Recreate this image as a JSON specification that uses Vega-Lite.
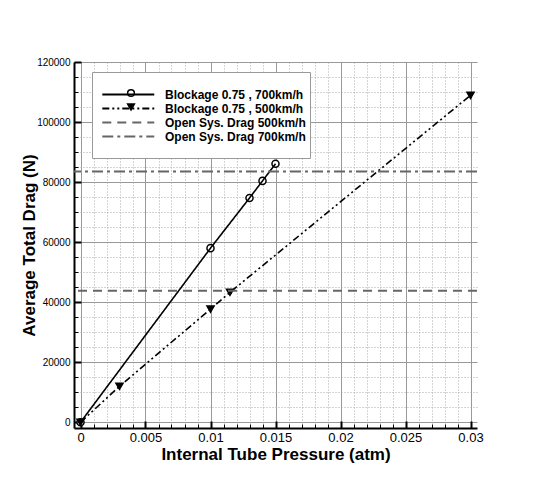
{
  "$schema": "https://vega.github.io/schema/vega-lite/v6.json",
  "autosize": {"type": "none"},
  "width": 403,
  "height": 366,
  "padding": {"left": 74, "top": 62, "right": 58, "bottom": 50},
  "background": "white",
  "config": {
    "view": {"stroke": null},
    "font": "Liberation Sans",
    "axis": {"labelFont": "Liberation Sans", "titleFont": "Liberation Sans", "labelColor": "black", "titleColor": "black", "tickColor": "black", "domainColor": "black"}
  },
  "datasets": {
    "curves": [
      {"series": "Blockage 0.75 , 700km/h", "p": 0, "drag": 0},
      {"series": "Blockage 0.75 , 700km/h", "p": 0.01, "drag": 58000},
      {"series": "Blockage 0.75 , 700km/h", "p": 0.013, "drag": 74700},
      {"series": "Blockage 0.75 , 700km/h", "p": 0.014, "drag": 80400},
      {"series": "Blockage 0.75 , 700km/h", "p": 0.015, "drag": 86100},
      {"series": "Blockage 0.75 , 500km/h", "p": 0, "drag": 0},
      {"series": "Blockage 0.75 , 500km/h", "p": 0.003, "drag": 12000},
      {"series": "Blockage 0.75 , 500km/h", "p": 0.01, "drag": 37700},
      {"series": "Blockage 0.75 , 500km/h", "p": 0.0115, "drag": 43300},
      {"series": "Blockage 0.75 , 500km/h", "p": 0.03, "drag": 108900}
    ],
    "markers": [
      {"mk": "m1", "p": 0, "drag": 0},
      {"mk": "m1", "p": 0.01, "drag": 58000},
      {"mk": "m1", "p": 0.013, "drag": 74700},
      {"mk": "m1", "p": 0.014, "drag": 80400},
      {"mk": "m1", "p": 0.015, "drag": 86100},
      {"mk": "m2", "p": 0, "drag": 0},
      {"mk": "m2", "p": 0.003, "drag": 12000},
      {"mk": "m2", "p": 0.01, "drag": 37700},
      {"mk": "m2", "p": 0.0115, "drag": 43300},
      {"mk": "m2", "p": 0.03, "drag": 108900}
    ],
    "levels": [
      {"series": "Open Sys. Drag 500km/h", "drag": 43800},
      {"series": "Open Sys. Drag 700km/h", "drag": 83500}
    ]
  },
  "resolve": {"axis": {"x": "independent", "y": "independent"}},
  "layer": [
    {
      "data": {"name": "markers"},
      "mark": {"type": "point", "strokeWidth": 1.5, "opacity": 1, "filled": false},
      "encoding": {
        "x": {
          "field": "p", "type": "quantitative",
          "scale": {"domain": [-0.0005, 0.0305], "nice": false, "zero": false},
          "axis": {"orient": "bottom", "values": [0.001, 0.002, 0.003, 0.004, 0.006, 0.007, 0.008, 0.009, 0.011, 0.012, 0.013, 0.014, 0.016, 0.017, 0.018, 0.019, 0.021, 0.022, 0.023, 0.024, 0.026, 0.027, 0.028, 0.029], "title": null, "labels": false, "domain": false, "grid": true, "gridDash": [1, 2], "gridColor": "#a8a8a8", "ticks": true, "tickSize": -4, "tickWidth": 1}
        },
        "y": {"field": "drag", "type": "quantitative",
          "scale": {"domain": [-1900, 120000], "nice": false, "zero": false},
          "axis": {"orient": "left", "values": [0, 20000, 40000, 60000, 80000, 100000, 120000], "title": null, "labels": false, "domain": false, "grid": false, "ticks": true, "tickSize": -7, "tickWidth": 2}},
        "color": {"field": "mk", "type": "nominal", "scale": {"domain": ["m1", "m2", "m3", "m4"], "range": ["black", "black", "transparent", "transparent"]},
          "legend": {"title": null, "orient": "none", "legendX": 18, "legendY": 10, "padding": 15, "fillColor": "white", "strokeColor": "#999999", "labelOpacity": 0, "labelExpr": "''", "labelFontSize": 12, "labelFontWeight": "bold", "labelFont": "Liberation Sans", "rowPadding": 1, "symbolSize": 45, "symbolStrokeWidth": 1.5, "symbolOffset": 18, "labelOffset": 158, "labelLimit": 300}},
        "fill": {"field": "mk", "type": "nominal", "scale": {"domain": ["m1", "m2", "m3", "m4"], "range": ["white", "black", "transparent", "transparent"]},
          "legend": {"title": null, "orient": "none", "legendX": 18, "legendY": 10, "padding": 15, "fillColor": "white", "strokeColor": "#999999", "labelOpacity": 0, "labelExpr": "''", "labelFontSize": 12, "labelFontWeight": "bold", "labelFont": "Liberation Sans", "rowPadding": 1, "symbolSize": 45, "symbolStrokeWidth": 1.5, "symbolOffset": 18, "labelOffset": 158, "labelLimit": 300}},
        "shape": {"field": "mk", "type": "nominal", "scale": {"domain": ["m1", "m2", "m3", "m4"], "range": ["circle", "triangle-down", "circle", "circle"]},
          "legend": {"title": null, "orient": "none", "legendX": 18, "legendY": 10, "padding": 15, "fillColor": "white", "strokeColor": "#999999", "labelOpacity": 0, "labelExpr": "''", "labelFontSize": 12, "labelFontWeight": "bold", "labelFont": "Liberation Sans", "rowPadding": 1, "symbolSize": 45, "symbolStrokeWidth": 1.5, "symbolOffset": 18, "labelOffset": 158, "labelLimit": 300}},
        "size": {"value": 50}
      }
    },
    {
      "data": {"name": "curves"},
      "mark": {"type": "line", "strokeWidth": 1.6},
      "encoding": {
        "x": {
          "field": "p", "type": "quantitative",
          "axis": {"orient": "bottom", "values": [0, 0.005, 0.01, 0.015, 0.02, 0.025, 0.03], "format": "~g", "title": "Internal Tube Pressure (atm)", "titleFontSize": 17, "titleFontWeight": "bold", "titlePadding": 2, "labelFontSize": 13, "labelPadding": 3, "ticks": false, "domainWidth": 2, "grid": true, "gridColor": "#999999", "gridWidth": 1, "labelFlush": false, "labelOverlap": false}
        },
        "y": {
          "field": "drag", "type": "quantitative",
          "axis": {"orient": "left", "values": [0, 20000, 40000, 60000, 80000, 100000, 120000], "format": "d", "title": "Average Total Drag (N)", "titleFontSize": 17, "titleFontWeight": "bold", "titlePadding": -2, "labelFontSize": 10, "labelPadding": 4, "ticks": false, "domainWidth": 2, "grid": true, "gridColor": "#999999", "gridWidth": 1, "labelFlush": false, "labelOverlap": false}
        },
        "stroke": {
          "field": "series", "type": "nominal",
          "scale": {"domain": ["Blockage 0.75 , 700km/h", "Blockage 0.75 , 500km/h", "Open Sys. Drag 500km/h", "Open Sys. Drag 700km/h"], "range": ["black", "black", "#666666", "#666666"]},
          "legend": {"title": null, "orient": "none", "legendX": 27, "legendY": 26, "symbolType": "M-1,0H9", "symbolSize": 108, "symbolStrokeWidth": 1.8, "labelFontSize": 12, "labelFontWeight": "bold", "labelFont": "Liberation Sans", "labelColor": "black", "labelOffset": 51, "padding": 0, "rowPadding": 1, "labelLimit": 300}
        },
        "strokeDash": {
          "field": "series", "type": "nominal",
          "scale": {"domain": ["Blockage 0.75 , 700km/h", "Blockage 0.75 , 500km/h", "Open Sys. Drag 500km/h", "Open Sys. Drag 700km/h"], "range": [[1, 0], [7, 3, 2, 3, 2, 3], [9, 6], [11, 4, 3, 4]]},
          "legend": {"title": null, "orient": "none", "legendX": 27, "legendY": 26, "symbolType": "M-1,0H9", "symbolSize": 108, "symbolStrokeWidth": 1.8, "labelFontSize": 12, "labelFontWeight": "bold", "labelFont": "Liberation Sans", "labelColor": "black", "labelOffset": 51, "padding": 0, "rowPadding": 1, "labelLimit": 300}
        }
      }
    },
    {
      "data": {"name": "levels"},
      "mark": {"type": "rule", "strokeWidth": 2},
      "encoding": {
        "y": {
          "field": "drag", "type": "quantitative",
          "axis": {"orient": "left", "values": [5000, 10000, 15000, 25000, 30000, 35000, 45000, 50000, 55000, 65000, 70000, 75000, 85000, 90000, 95000, 105000, 110000, 115000], "title": null, "labels": false, "domain": false, "grid": true, "gridDash": [1, 2], "gridColor": "#a8a8a8", "ticks": true, "tickSize": -4, "tickWidth": 1}
        },
        "stroke": {"field": "series", "type": "nominal"},
        "strokeDash": {"field": "series", "type": "nominal"}
      }
    },
    {
      "data": {"name": "curves"},
      "mark": {"type": "point", "opacity": 0},
      "encoding": {
        "x": {"field": "p", "type": "quantitative", "axis": {"orient": "bottom", "values": [0, 0.005, 0.01, 0.015, 0.02, 0.025, 0.03], "title": null, "labels": false, "domain": false, "grid": false, "ticks": true, "tickSize": -7, "tickWidth": 2}},
        "y": {"field": "drag", "type": "quantitative", "axis": null}
      }
    }
  ]
}
